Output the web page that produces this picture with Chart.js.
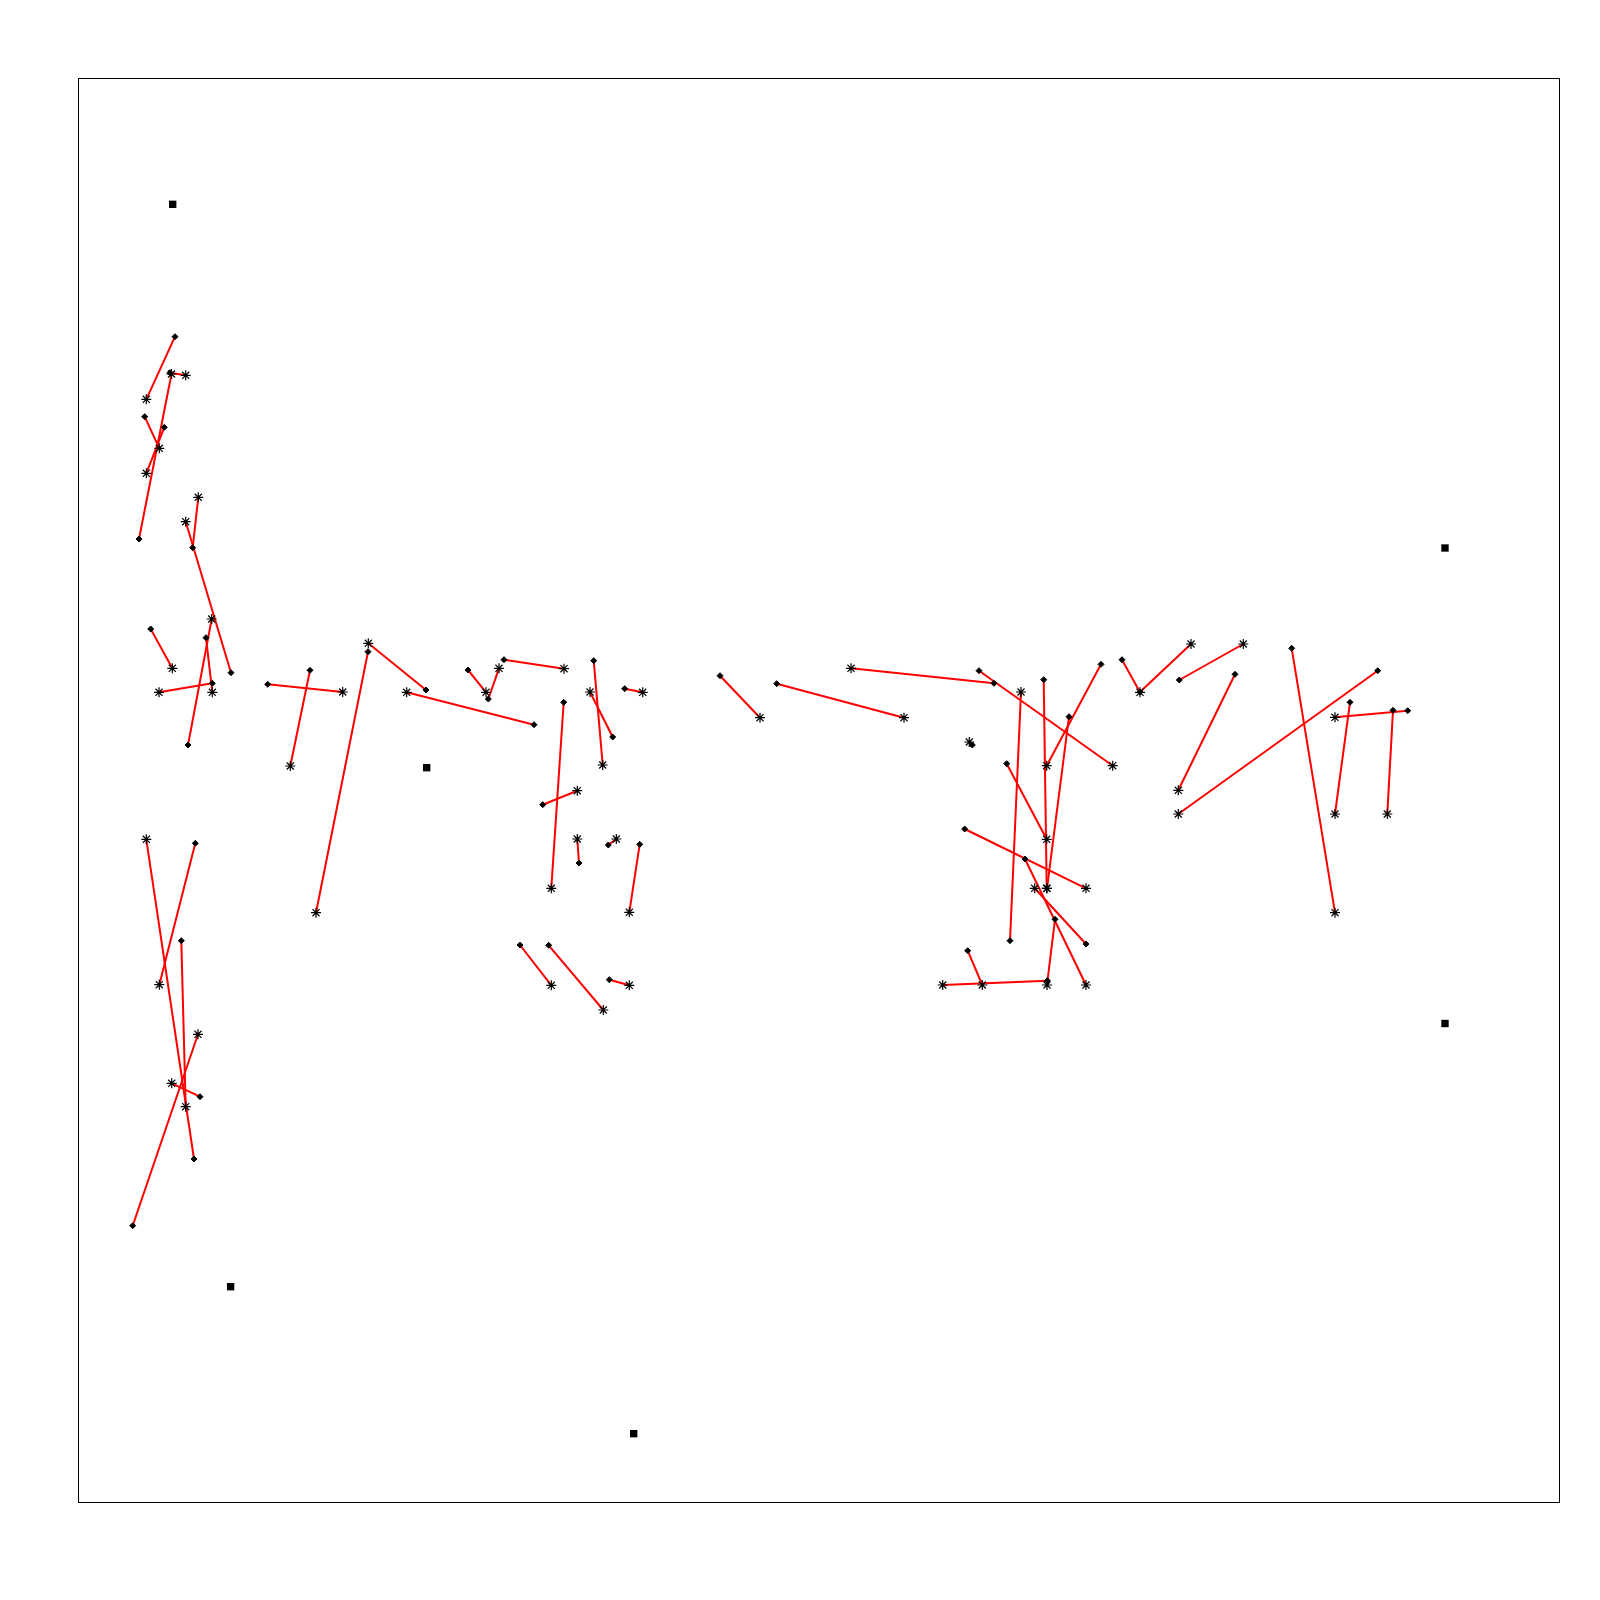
<!DOCTYPE html>
<html>
<head>
<meta charset="utf-8">
<script src="https://cdn.jsdelivr.net/npm/chart.js@4"></script>
<style>
html,body{margin:0;padding:0;background:#fff;}
#wrap{width:1600px;height:1600px;}
</style>
</head>
<body>
<div id="wrap"><canvas id="c" width="1600" height="1600"></canvas></div>
<script>
// Asterisk end of each pair
const astX = [146.3,185.7,171.5,159.3,146.3,198.3,185.7,172.3,159,212.3,211.7,146.3,159.3,185.7,198,171.7,
  342.7,290.3,368.3,316,406.7,486,499,564,602.7,590,642.7,551.3,577.3,577.3,616.3,629.3,551.3,603.3,629.3,
  760,904,851,1112.7,1021,1046.7,1046.7,1047,969.3,1046.7,1086,1034.7,1086,1047,982.3,942.7,
  1140,1191,1243.3,1178.3,1178.3,1335,1335,1335,1387.3];
const astY = [399.3,375.3,374,448.3,473.3,497.3,521.7,668.3,692.3,692.3,619,839.3,984.7,1106.7,1034.3,1083.3,
  692,766,643.3,912.7,692.3,692.3,668.3,668.7,765,692,692.3,888.3,790.7,839,839,912.3,985.3,1010,985.3,
  717.7,717.7,668.3,765.7,692,888.3,765.7,888.3,742,839.3,888.3,888.3,985,985,985,985,
  692.3,644,644,790.3,814,912.7,814,717.3,814];
// Diamond end of each pair
const diaX = [175,170,139,144.7,164.3,192.7,231,150.7,212.3,206,188,194,195.3,181.3,132.7,200,
  267.7,310,426,368,534,468,488.3,504,593.7,612.7,624.7,563.7,542.7,579,608.3,639.7,520,548.7,609.3,
  720,776.7,994,979,1010,1043.7,1101,1069,972.3,1006.7,964.7,1086,1025,1055,967.7,1047.3,
  1122,1140,1179.3,1235,1377.7,1291.7,1350,1407.7,1393];
const diaY = [336.7,372.7,539,416.7,427.3,547.7,672.7,629,683.3,637.7,745,1159,843.3,940.7,1225.7,1096.7,
  684.3,670.3,690,651.7,724.7,670,699,659.7,660.7,737,688.7,702.3,804.7,863,845,844.3,945,945.3,979.7,
  675.7,683.7,683.3,670.7,940.7,679.7,664.3,716.7,745,763.7,829,944,859,919.3,950.7,980.7,
  659.7,692,680,674.3,670.7,648.3,702.3,710.7,710.3];
// Lone square markers
const sqX = [172.7,426.7,230.6,633.7,1445,1445];
const sqY = [204.3,767.7,1286.7,1433.7,548,1023.5];

const datasets = [];
const toPts = (xs, ys) => xs.map((x, i) => ({x: x, y: ys[i]}));
datasets.push({label:'asterisk', data: toPts(astX, astY), pointStyle:'star', pointRadius:5,
  borderColor:'#000', backgroundColor:'#000', borderWidth:1.2, showLine:false, order:0});
datasets.push({label:'diamond', data: toPts(diaX, diaY), pointStyle:'rectRot', pointRadius:3,
  borderColor:'#000', backgroundColor:'#000', borderWidth:1, showLine:false, order:0});
datasets.push({label:'square', data: toPts(sqX, sqY), pointStyle:'rect', pointRadius:5.2,
  borderColor:'#000', backgroundColor:'#000', borderWidth:0, showLine:false, order:0});
for (let i = 0; i < astX.length; i++) {
  datasets.push({label:'seg'+i, data:[{x:astX[i], y:astY[i]}, {x:diaX[i], y:diaY[i]}],
    showLine:true, borderColor:'#ff0000', borderWidth:2, pointRadius:0, fill:false, order:1});
}

const frame = {
  id:'frame',
  afterDraw(chart){
    const a = chart.chartArea, ctx = chart.ctx;
    ctx.save();
    ctx.strokeStyle = '#000';
    ctx.lineWidth = 1;
    ctx.strokeRect(Math.round(a.left)+0.5, Math.round(a.top)+0.5,
      Math.round(a.right - a.left), Math.round(a.bottom - a.top));
    ctx.restore();
  }
};

new Chart(document.getElementById('c'), {
  type:'scatter',
  data:{datasets},
  options:{
    responsive:false,
    animation:false,
    devicePixelRatio:1,
    layout:{padding:{left:78, top:78, right:41, bottom:98}},
    plugins:{legend:{display:false}, tooltip:{enabled:false}},
    scales:{
      x:{type:'linear', min:78, max:1559, display:false},
      y:{type:'linear', min:78, max:1502, reverse:true, display:false}
    }
  },
  plugins:[frame]
});
</script>
</body>
</html>
